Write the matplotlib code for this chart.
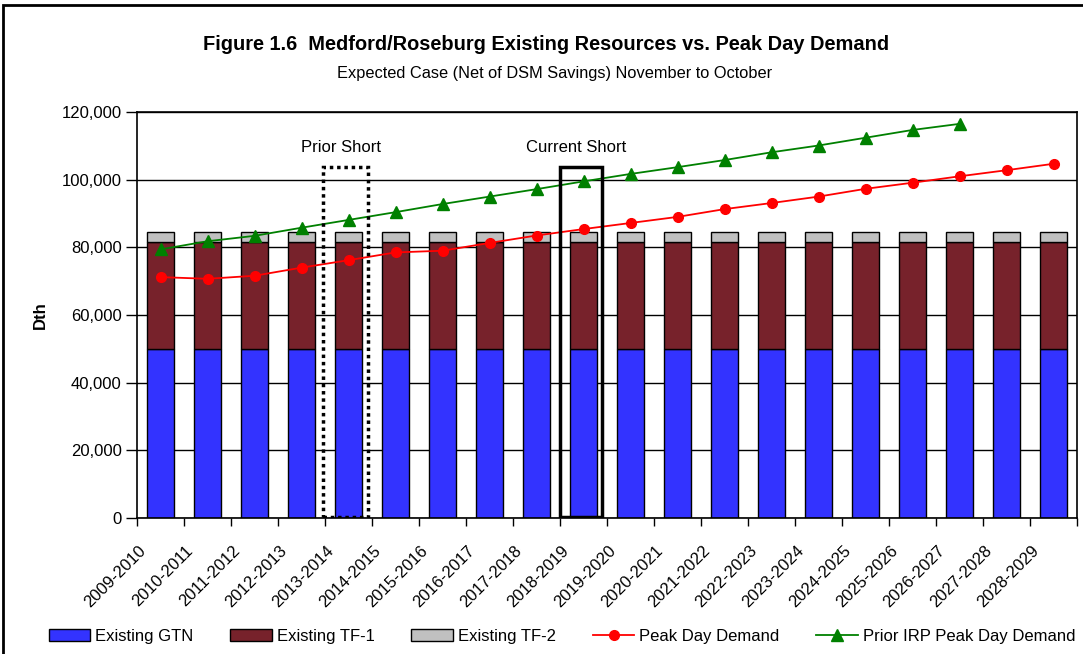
import numpy as np
import matplotlib
matplotlib.use('Agg')
from matplotlib import pyplot as plt
from matplotlib.patches import Rectangle
import matplotlib.transforms as mtransforms

plt.rcParams['font.family'] = ['Liberation Sans', 'DejaVu Sans']

years = ['2009-2010', '2010-2011', '2011-2012', '2012-2013', '2013-2014',
         '2014-2015', '2015-2016', '2016-2017', '2017-2018', '2018-2019',
         '2019-2020', '2020-2021', '2021-2022', '2022-2023', '2023-2024',
         '2024-2025', '2025-2026', '2026-2027', '2027-2028', '2028-2029']

existing_gtn = [50000] * 20
existing_tf1 = [31700] * 20
existing_tf2 = [2800] * 20

peak_day = [71200, 70700, 71600, 74000, 76200, 78500, 79000, 81300, 83500, 85400,
            87200, 89000, 91300, 93100, 95000, 97300, 99100, 101000, 102800, 104700]

prior_irp = [79400, 81800, 83400, 85800, 88100, 90400, 92800, 95000, 97200, 99500,
             101700, 103700, 105800, 108100, 110100, 112400, 114700, 116500]

# (label, year, linestyle, box width in categories)
short_boxes = [('Prior Short', '2013-2014', (0, (1, 1.1)), 0.96),
               ('Current Short', '2018-2019', '-', 0.90)]
box_top = 103700

fig = plt.figure(figsize=(10.83, 6.54), dpi=100)
ax = fig.add_axes((0.1265, 0.208, 0.868, 0.6207))

x = np.arange(len(years))
w = 0.56
b1 = ax.bar(x, existing_gtn, w, color='#3333FF', edgecolor='black', lw=1, label='Existing GTN', zorder=2)
b2 = ax.bar(x, existing_tf1, w, bottom=existing_gtn, color='#77222B', edgecolor='black', lw=1,
            label='Existing TF-1', zorder=2)
bottom2 = np.array(existing_gtn) + np.array(existing_tf1)
b3 = ax.bar(x, existing_tf2, w, bottom=bottom2, color='#C0C0C0', edgecolor='black', lw=1,
            label='Existing TF-2', zorder=2)

l1, = ax.plot(x, peak_day, color='red', lw=1.3, marker='o', ms=7, label='Peak Day Demand', zorder=4)
l2, = ax.plot(x[:len(prior_irp)], prior_irp, color='green', lw=1.3, marker='^', ms=8,
              label='Prior IRP Peak Day Demand', zorder=4)

for name, yr, ls, bw in short_boxes:
    i = years.index(yr)
    ax.add_patch(Rectangle((i - 0.06 - bw / 2, 300), bw, box_top - 300, fill=False,
                           ec='black', lw=2.5, ls=ls, zorder=5))
    ax.text(i - 0.15, 109500, name, ha='center', va='center', fontsize=12)

ax.set_xlim(-0.5, len(years) - 0.5)
ax.set_ylim(0, 120000)
ax.set_yticks(np.arange(0, 120001, 20000))
ax.set_yticklabels([f'{v:,}' for v in range(0, 120001, 20000)], fontsize=12)
ax.yaxis.grid(True, color='black', lw=1)
ax.set_axisbelow(True)
ax.tick_params(axis='y', length=8, width=1, direction='out', pad=3)

ax.set_xticks(np.arange(-0.5, len(years), 1.0), minor=True)
ax.set_xticks(x)
ax.set_xticklabels(years, rotation=45, ha='right', va='top', fontsize=12)
ax.tick_params(axis='x', which='major', length=0, pad=18)
ax.tick_params(axis='x', which='minor', length=6, width=1, direction='out')
shift = mtransforms.ScaledTranslation(-12 / 100, 0, fig.dpi_scale_trans)
for lbl in ax.get_xticklabels():
    lbl.set_transform(lbl.get_transform() + shift)

for s in ax.spines.values():
    s.set_linewidth(1.2)

ax.set_ylabel('Dth', fontsize=12, fontweight='bold', labelpad=10)

fig.text(0.504, 0.932, 'Figure 1.6  Medford/Roseburg Existing Resources vs. Peak Day Demand',
         ha='center', va='center', fontsize=14.4, fontweight='bold')
fig.text(0.512, 0.888, 'Expected Case (Net of DSM Savings) November to October',
         ha='center', va='center', fontsize=11.8)

handles = [b1, b2, b3, l1, l2]
fig.legend(handles, [h.get_label() for h in handles], loc='center',
           bbox_to_anchor=(0.519, 0.027), ncol=5, frameon=False,
           fontsize=12, columnspacing=2.2, handlelength=2.5, handletextpad=0.3)

fig.add_artist(Rectangle((3 / 1083, -0.05), 1.2, 1 - 5 / 654 + 0.05, transform=fig.transFigure,
                         fill=False, ec='black', lw=2))

fig.savefig('out.png', dpi=100)
